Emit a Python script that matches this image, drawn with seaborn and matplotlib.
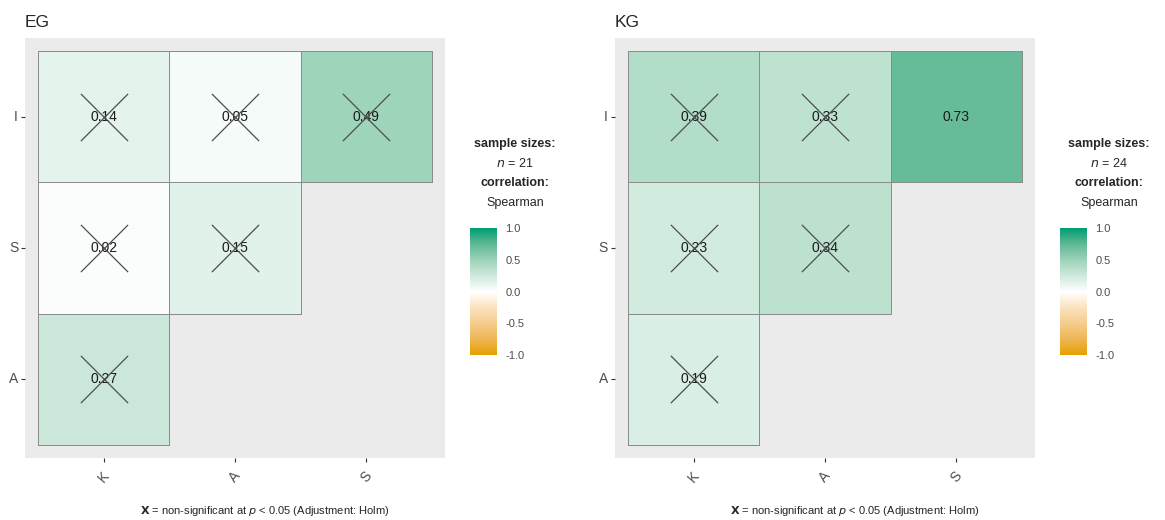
import numpy as np
import pandas as pd
import matplotlib
matplotlib.use("Agg")
import matplotlib.pyplot as plt
from matplotlib.colors import LinearSegmentedColormap
import seaborn as sns

sns.set_style("white")
plt.rcParams['font.family'] = ['Liberation Sans', 'DejaVu Sans']

# ----- data -----
rows = ["I", "S", "A"]
cols = ["K", "A", "S"]
panels = ["EG", "KG"]
sample_sizes = [21, 24]

# upper-left triangle, NaN = not shown
eg_r = [[0.14, 0.05, 0.49],
        [0.02, 0.15, np.nan],
        [0.27, np.nan, np.nan]]
kg_r = [[0.39, 0.33, 0.73],
        [0.23, 0.34, np.nan],
        [0.19, np.nan, np.nan]]
# True = non-significant (crossed)
eg_ns = [[True, True, True],
         [True, True, False],
         [True, False, False]]
kg_ns = [[True, True, False],
         [True, True, False],
         [True, False, False]]

# orange -> white -> green, stops tuned to look like ggplot's Lab gradient
cmap = LinearSegmentedColormap.from_list("corr", [
    (0.000, "#E69F00"), (0.125, "#EEB655"), (0.250, "#F5CD8C"), (0.375, "#FAE2BE"),
    (0.500, "#FFFFFF"),
    (0.625, "#CEE9DC"), (0.750, "#9CD3B9"), (0.875, "#62B996"), (1.000, "#009E73")])

fig = plt.figure(figsize=(11.65, 5.2), dpi=100)

axes_pos = [[0.0215, 0.119, 0.3605, 0.8077], [0.5279, 0.119, 0.3605, 0.8077]]
cbar_pos = [[0.4034, 0.317, 0.0232, 0.244], [0.9099, 0.317, 0.0232, 0.244]]
legend_x = [0.442, 0.952]

for i, (name, r, ns) in enumerate(zip(panels, [eg_r, kg_r], [eg_ns, kg_ns])):
    ax = fig.add_axes(axes_pos[i])
    cax = fig.add_axes(cbar_pos[i])
    df = pd.DataFrame(r, index=rows, columns=cols)

    sns.heatmap(df, ax=ax, cmap=cmap, vmin=-1, vmax=1, mask=df.isna(),
                annot=True, fmt=".2f", annot_kws={"color": "#1A1A1A", "fontsize": 10},
                linewidths=0.7, linecolor="#8C8C8C", cbar=True, cbar_ax=cax,
                square=False)

    # hide borders of the masked (empty) cells
    mesh = ax.collections[0]
    hidden = df.isna().values.ravel()
    mesh.set_edgecolor([(0, 0, 0, 0) if h else "#8C8C8C" for h in hidden])

    # crosses over non-significant cells
    ns_df = pd.DataFrame(ns, index=rows, columns=cols)
    yy, xx = np.where(ns_df.values)
    ax.scatter(xx + 0.5, yy + 0.5, marker="x", s=34 ** 2, color="#4D4D4D",
               linewidths=0.9, zorder=5)

    ax.set_facecolor("#EBEBEB")
    ax.set_xlim(-0.1, 3.1)
    ax.set_ylim(3.1, -0.1)
    for s in ax.spines.values():
        s.set_visible(False)
    ax.tick_params(axis="both", bottom=True, left=True, length=3, width=0.8,
                   color="#333333", labelcolor="#4D4D4D", labelsize=10, pad=2)
    ax.tick_params(axis="x", pad=5)
    ax.set_yticklabels(rows, rotation=0)
    ax.set_xticklabels(cols, rotation=50, ha="center", va="top")
    ax.set_xlabel("")
    ax.set_ylabel("")
    ax.set_title(name, loc="left", fontsize=12.5, pad=8, x=0.0)

    # colorbar
    cb = mesh.colorbar
    cb.outline.set_visible(False)
    cb.set_ticks([-1, -0.5, 0, 0.5, 1])
    cb.set_ticklabels(["-1.0", "-0.5", "0.0", "0.5", "1.0"])
    cax.tick_params(axis="y", direction="in", length=4, width=0.6, color="white",
                    left=True, right=True, labelsize=8, labelcolor="#4D4D4D", pad=6)

    # legend title
    lx = legend_x[i]
    fig.text(lx, 0.717, "sample sizes:", ha="center", fontsize=9, fontweight="bold")
    fig.text(lx, 0.679, r"$\it{n}$ = %d" % sample_sizes[i], ha="center", fontsize=9)
    fig.text(lx, 0.642, "correlation:", ha="center", fontsize=9, fontweight="bold")
    fig.text(lx, 0.604, "Spearman", ha="center", fontsize=9)

    # caption
    cx = axes_pos[i][0] + 0.206
    fig.text(cx, 0.012, r"$\mathbf{X}$ = non-significant at $\it{p}$ < 0.05 (Adjustment: Holm)",
             ha="center", fontsize=8)

plt.savefig("out.png", dpi=100)
